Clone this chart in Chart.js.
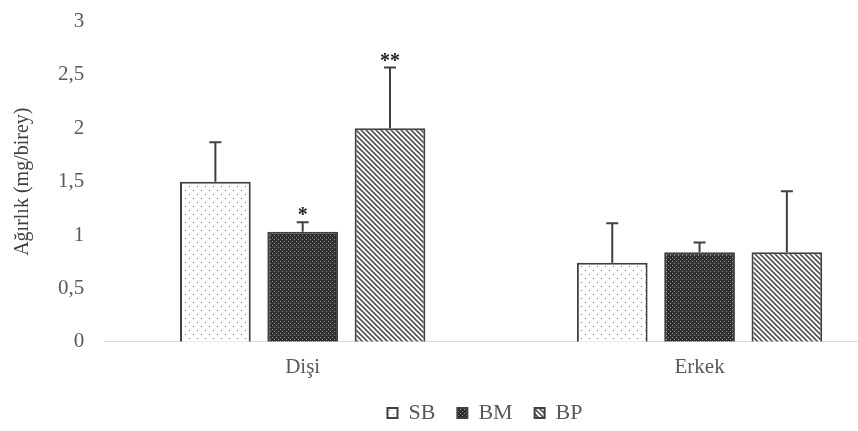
<!DOCTYPE html>
<html>
<head>
<meta charset="utf-8">
<script src="https://cdn.jsdelivr.net/npm/chart.js@4.4.0/dist/chart.umd.min.js"></script>
<style>
  html, body { margin: 0; padding: 0; background: #fff; overflow: hidden; width: 858px; height: 431px; }
  /* the plot runs past the right edge of the picture, as in the reference */
  #wrap { position: absolute; left: 0; top: -11px; width: 898px; height: 445px; }
</style>
</head>
<body>
<div id="wrap"><canvas id="chart"></canvas></div>
<script>
// data
const categories = ['Dişi', 'Erkek'];
const sbValues = [1.50, 0.74];
const bmValues = [1.03, 0.84];
const bpValues = [2.00, 0.84];
const sbErrors = [0.37, 0.37];
const bmErrors = [0.09, 0.09];
const bpErrors = [0.57, 0.57];
const sbMarks = ['', ''];
const bmMarks = ['*', ''];
const bpMarks = ['**', ''];
const yTicks = [0, 0.5, 1, 1.5, 2, 2.5, 3];

const FONT = '"Liberation Serif", "Times New Roman", serif';
const GREY = '#595959';
const EDGE = '#404040';

const ctx = document.getElementById('chart').getContext('2d');

function makePattern(size, drawTile) {
  const c = document.createElement('canvas');
  c.width = size;
  c.height = size;
  drawTile(c.getContext('2d'), size);
  return ctx.createPattern(c, 'repeat');
}

// SB: sparse grey dots on white
const dotPattern = makePattern(8, (g, s) => {
  g.fillStyle = '#fff';
  g.fillRect(0, 0, s, s);
  g.fillStyle = '#777';
  g.fillRect(1, 1, 1, 1);
  g.fillRect(5, 5, 1, 1);
});

// BM: dark fine checker
const checkPattern = makePattern(4, (g, s) => {
  g.fillStyle = '#2e2e2e';
  g.fillRect(0, 0, s, s);
  g.fillStyle = '#9c9c9c';
  g.fillRect(0, 0, 1, 1);
  g.fillRect(2, 2, 1, 1);
});

// BP: diagonal stripes
const stripePattern = makePattern(5, (g, s) => {
  g.fillStyle = '#fff';
  g.fillRect(0, 0, s, s);
  g.strokeStyle = '#505050';
  g.lineWidth = 1.6;
  for (const o of [-s, 0, s]) {
    g.beginPath();
    g.moveTo(o - 1, -1);
    g.lineTo(o + s + 1, s + 1);
    g.stroke();
  }
});

const errorBars = {
  id: 'errorBars',
  afterDatasetsDraw(chart) {
    const { ctx, scales: { y } } = chart;
    ctx.save();
    chart.data.datasets.forEach((ds, i) => {
      chart.getDatasetMeta(i).data.forEach((bar, j) => {
        const top = y.getPixelForValue(ds.data[j] + ds.errors[j]);
        ctx.strokeStyle = EDGE;
        ctx.lineWidth = 2;
        ctx.beginPath();
        ctx.moveTo(bar.x, bar.y);
        ctx.lineTo(bar.x, top);
        ctx.moveTo(bar.x - 6, top);
        ctx.lineTo(bar.x + 6, top);
        ctx.stroke();
        if (ds.marks[j]) {
          ctx.fillStyle = '#222';
          ctx.font = 'bold 20px ' + FONT;
          ctx.textAlign = 'center';
          ctx.textBaseline = 'middle';
          ctx.fillText(ds.marks[j], bar.x, top - 6);
        }
      });
    });
    ctx.restore();
  }
};

// the legend sits a little right of the canvas centre
const legendShift = {
  id: 'legendShift',
  afterUpdate(chart) {
    chart.legend.left += 36;
    chart.legend.right += 36;
  }
};

const barOpts = { borderColor: EDGE, borderWidth: 2, categoryPercentage: 0.66, barPercentage: 0.81 };

new Chart(ctx, {
  type: 'bar',
  data: {
    labels: categories,
    datasets: [
      { label: 'SB', data: sbValues, errors: sbErrors, marks: sbMarks, backgroundColor: dotPattern, ...barOpts },
      { label: 'BM', data: bmValues, errors: bmErrors, marks: bmMarks, backgroundColor: checkPattern, ...barOpts },
      { label: 'BP', data: bpValues, errors: bpErrors, marks: bpMarks, backgroundColor: stripePattern, ...barOpts }
    ]
  },
  options: {
    responsive: true,
    maintainAspectRatio: false,
    animation: false,
    layout: { padding: 0 },
    scales: {
      x: {
        grid: { display: false, drawTicks: false },
        border: { color: '#d9d9d9', width: 1 },
        ticks: { color: GREY, font: { family: FONT, size: 21 }, padding: 13 },
        afterFit: scale => { scale.height -= 13; }
      },
      y: {
        min: 0,
        max: 3,
        afterBuildTicks: axis => { axis.ticks = yTicks.map(v => ({ value: v })); },
        grid: { display: false, drawTicks: false },
        border: { display: false },
        ticks: {
          color: GREY,
          font: { family: FONT, size: 21 },
          padding: 20,
          callback: v => String(v).replace('.', ',')
        },
        title: {
          display: true,
          text: 'Ağırlık (mg/birey)',
          color: EDGE,
          font: { family: FONT, size: 20 },
          padding: { top: 11, bottom: 3 }
        }
      }
    },
    plugins: {
      legend: {
        position: 'bottom',
        labels: { boxWidth: 10, boxHeight: 10, padding: 22, color: GREY, font: { family: FONT, size: 22 } }
      },
      tooltip: { enabled: false }
    }
  },
  plugins: [errorBars, legendShift]
});
</script>
</body>
</html>
